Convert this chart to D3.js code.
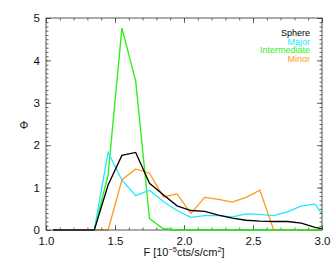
<!DOCTYPE html>
<html>
<head>
<meta charset="utf-8">
<script src="https://cdn.jsdelivr.net/npm/d3@7"></script>
<style>
  body { margin: 0; background: #fff; }
  svg text { font-family: "Liberation Sans", Arial, sans-serif; }
</style>
</head>
<body>
<div id="chart"></div>
<script>
// Data (bin centres, 0.1 wide)
const fluxBins     = [1.05, 1.15, 1.25, 1.35, 1.45, 1.55, 1.65, 1.75, 1.85, 1.95, 2.05, 2.15, 2.25, 2.35, 2.45, 2.55, 2.65, 2.75, 2.85, 2.95, 3.05];
const sphere       = [0, 0, 0, 0, 1.06, 1.76, 1.83, 1.10, 0.83, 0.57, 0.46, 0.44, 0.35, 0.28, 0.23, 0.21, 0.20, 0.20, 0.16, 0.06, 0.0];
const major        = [0, 0, 0, 0, 1.83, 1.18, 0.81, 0.94, 0.67, 0.46, 0.30, 0.34, 0.34, 0.31, 0.38, 0.37, 0.34, 0.43, 0.57, 0.61, 0.15];
const intermediate = [0, 0, 0, 0, 1.30, 4.76, 3.51, 0.27, 0.03, 0, 0, 0, 0, 0, 0, 0, 0, 0, 0, 0, 0];
const minor        = [0, 0, 0, 0, 0, 1.18, 1.44, 1.34, 0.78, 0.85, 0.39, 0.77, 0.72, 0.66, 0.77, 0.94, 0, 0, 0, 0, 0];

const seriesNames  = ['Sphere', 'Major', 'Intermediate', 'Minor'];
const seriesColors = ['#000000', '#22e8ff', '#33ee22', '#ff9922'];
const seriesData   = [sphere, major, intermediate, minor];

const xTicks = [1.0, 1.5, 2.0, 2.5, 3.0];
const yTicks = [0, 1, 2, 3, 4, 5];

const width  = 334;
const height = 267;
const plot   = { left: 46, right: 322, top: 18, bottom: 230 };

const svg = d3.select('#chart')
  .append('svg')
    .attr('width', width)
    .attr('height', height);

const x = d3.scaleLinear().domain([1, 3]).range([plot.left, plot.right]);
const y = d3.scaleLinear().domain([0, 5]).range([plot.bottom, plot.top]);

// clip lines to the box
svg.append('clipPath').attr('id', 'clip')
  .append('rect')
    .attr('x', plot.left).attr('y', plot.top - 2)
    .attr('width', plot.right - plot.left).attr('height', plot.bottom - plot.top + 4);

const line = d3.line()
  .x((d, i) => x(fluxBins[i]))
  .y(d => y(d));

// draw intermediate under the others except keep order similar to reference
const drawOrder = [2, 1, 3, 0];
drawOrder.forEach(k => {
  svg.append('path')
    .attr('clip-path', 'url(#clip)')
    .attr('d', line(seriesData[k]))
    .attr('fill', 'none')
    .attr('stroke', seriesColors[k])
    .attr('stroke-width', k === 2 ? 1.4 : 1.3)
    .attr('stroke-linejoin', 'miter');
});

// Box axes with inward ticks (IDL style)
const axisColor = '#444';
const majorLen = 5, minorLen = 2.5;

function styleAxis(g) {
  g.select('.domain').remove();
  g.selectAll('line').attr('stroke', axisColor).attr('stroke-width', 0.8);
  g.selectAll('text').attr('fill', '#111').style('font-size', '11.5px');
}

const xMinor = d3.range(1, 3.0001, 0.1);
const yMinor = d3.range(0, 5.0001, 0.1);

// bottom
svg.append('g').attr('transform', `translate(0,${plot.bottom})`)
  .call(d3.axisTop(x).tickValues(xMinor).tickSize(minorLen).tickFormat(''))
  .call(styleAxis);
svg.append('g').attr('transform', `translate(0,${plot.bottom})`)
  .call(d3.axisTop(x).tickValues(xTicks).tickSize(majorLen).tickFormat(''))
  .call(styleAxis);
svg.append('g').attr('transform', `translate(0,${plot.bottom})`)
  .call(d3.axisBottom(x).tickValues(xTicks).tickSize(0).tickPadding(7).tickFormat(d3.format('.1f')))
  .call(styleAxis);
// top
svg.append('g').attr('transform', `translate(0,${plot.top})`)
  .call(d3.axisBottom(x).tickValues(xMinor).tickSize(minorLen).tickFormat(''))
  .call(styleAxis);
svg.append('g').attr('transform', `translate(0,${plot.top})`)
  .call(d3.axisBottom(x).tickValues(xTicks).tickSize(majorLen).tickFormat(''))
  .call(styleAxis);
// left
svg.append('g').attr('transform', `translate(${plot.left},0)`)
  .call(d3.axisRight(y).tickValues(yMinor).tickSize(minorLen).tickFormat(''))
  .call(styleAxis);
svg.append('g').attr('transform', `translate(${plot.left},0)`)
  .call(d3.axisRight(y).tickValues(yTicks).tickSize(majorLen).tickFormat(''))
  .call(styleAxis);
svg.append('g').attr('transform', `translate(${plot.left},0)`)
  .call(d3.axisLeft(y).tickValues(yTicks).tickSize(0).tickPadding(6).tickFormat(d3.format('d')))
  .call(styleAxis);
// right
svg.append('g').attr('transform', `translate(${plot.right},0)`)
  .call(d3.axisLeft(y).tickValues(yMinor).tickSize(minorLen).tickFormat(''))
  .call(styleAxis);
svg.append('g').attr('transform', `translate(${plot.right},0)`)
  .call(d3.axisLeft(y).tickValues(yTicks).tickSize(majorLen).tickFormat(''))
  .call(styleAxis);

// frame
svg.append('rect')
  .attr('x', plot.left).attr('y', plot.top)
  .attr('width', plot.right - plot.left).attr('height', plot.bottom - plot.top)
  .attr('fill', 'none').attr('stroke', axisColor).attr('stroke-width', 0.9);

// redraw green zero segment on top of the bottom axis like the reference
svg.append('path')
  .attr('clip-path', 'url(#clip)')
  .attr('d', line.defined((d, i) => i >= 8)(intermediate))
  .attr('fill', 'none')
  .attr('stroke', seriesColors[2])
  .attr('stroke-width', 1.6);

// axis titles
const xt = svg.append('text')
  .attr('x', (plot.left + plot.right) / 2)
  .attr('y', 256)
  .attr('text-anchor', 'middle')
  .style('font-size', '11px')
  .attr('fill', '#111');
xt.append('tspan').text('F [10');
xt.append('tspan').attr('dy', -4).style('font-size', '7.5px').text('−5');
xt.append('tspan').attr('dy', 4).text('cts/s/cm');
xt.append('tspan').attr('dy', -4).style('font-size', '7.5px').text('2');
xt.append('tspan').attr('dy', 4).text(']');

svg.append('text')
  .attr('x', 24).attr('y', 129)
  .attr('text-anchor', 'middle')
  .style('font-size', '11px')
  .attr('fill', '#111')
  .text('Φ');

// legend
seriesNames.forEach((name, i) => {
  svg.append('text')
    .attr('x', 310)
    .attr('y', 36 + i * 8.6)
    .attr('text-anchor', 'end')
    .style('font-size', '9px')
    .attr('fill', seriesColors[i])
    .text(name);
});
</script>
</body>
</html>
